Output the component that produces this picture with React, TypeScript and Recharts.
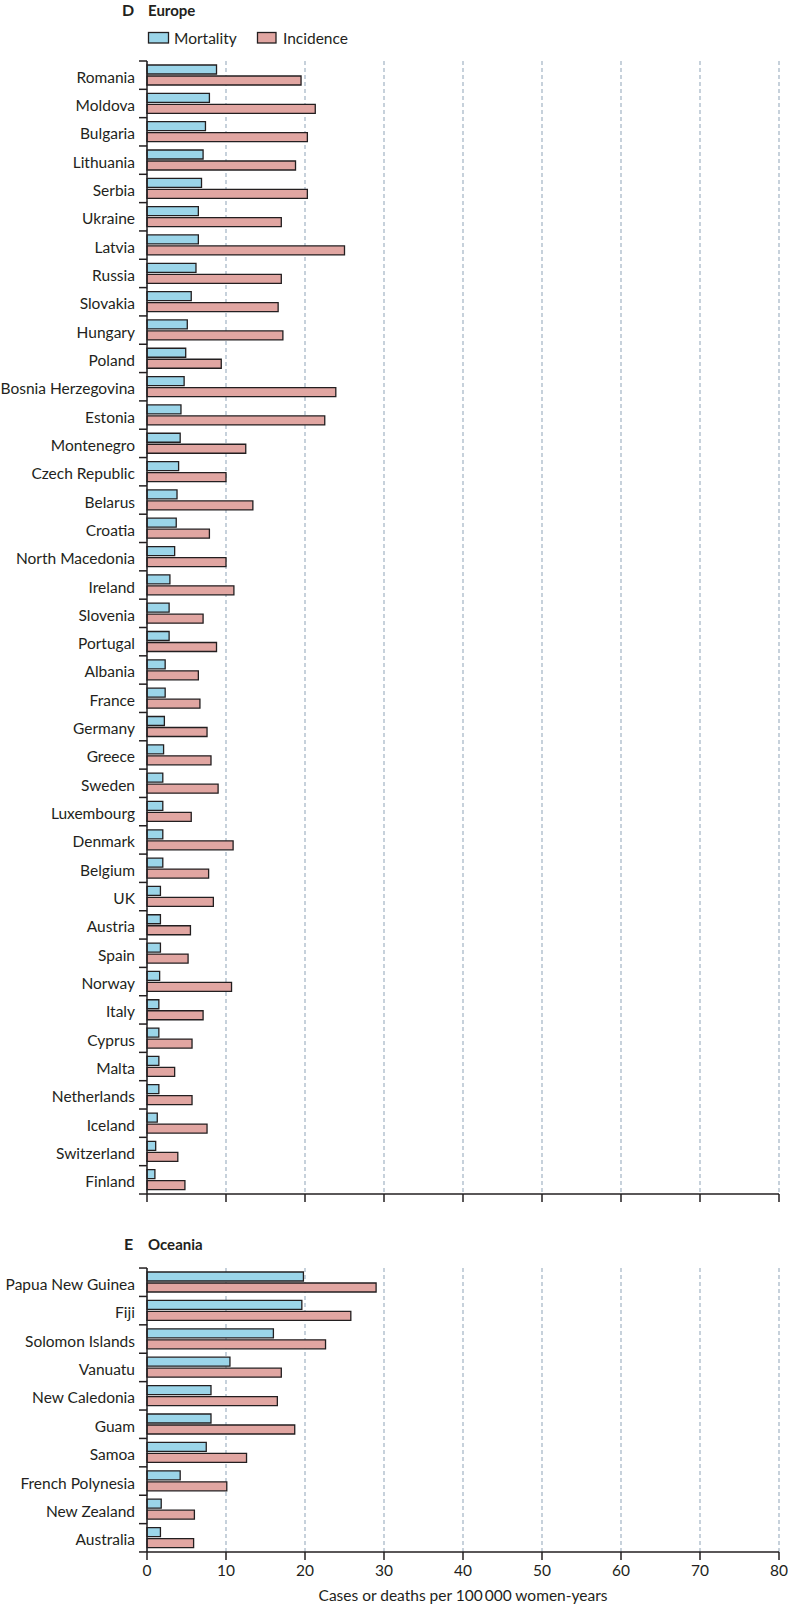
import { BarChart, Bar, XAxis, YAxis, CartesianGrid } from 'recharts'

const europeCountries = [
  'Romania', 'Moldova', 'Bulgaria', 'Lithuania', 'Serbia', 'Ukraine', 'Latvia', 'Russia',
  'Slovakia', 'Hungary', 'Poland', 'Bosnia Herzegovina', 'Estonia', 'Montenegro',
  'Czech Republic', 'Belarus', 'Croatia', 'North Macedonia', 'Ireland', 'Slovenia',
  'Portugal', 'Albania', 'France', 'Germany', 'Greece', 'Sweden', 'Luxembourg', 'Denmark',
  'Belgium', 'UK', 'Austria', 'Spain', 'Norway', 'Italy', 'Cyprus', 'Malta', 'Netherlands',
  'Iceland', 'Switzerland', 'Finland',
]
const europeMortality = [
  8.8, 7.9, 7.4, 7.1, 6.9, 6.5, 6.5, 6.2, 5.6, 5.1, 4.9, 4.7, 4.3, 4.2, 4.0, 3.8, 3.7, 3.5,
  2.9, 2.8, 2.8, 2.3, 2.3, 2.2, 2.1, 2.0, 2.0, 2.0, 2.0, 1.7, 1.7, 1.7, 1.6, 1.5, 1.5, 1.5,
  1.5, 1.3, 1.1, 1.0,
]
const europeIncidence = [
  19.5, 21.3, 20.3, 18.8, 20.3, 17.0, 25.0, 17.0, 16.6, 17.2, 9.4, 23.9, 22.5, 12.5, 10.0,
  13.4, 7.9, 10.0, 11.0, 7.1, 8.8, 6.5, 6.7, 7.6, 8.1, 9.0, 5.6, 10.9, 7.8, 8.4, 5.5, 5.2,
  10.7, 7.1, 5.7, 3.5, 5.7, 7.6, 3.9, 4.8,
]

const oceaniaCountries = [
  'Papua New Guinea', 'Fiji', 'Solomon Islands', 'Vanuatu', 'New Caledonia', 'Guam', 'Samoa',
  'French Polynesia', 'New Zealand', 'Australia',
]
const oceaniaMortality = [19.8, 19.6, 16.0, 10.5, 8.1, 8.1, 7.5, 4.2, 1.8, 1.7]
const oceaniaIncidence = [29.0, 25.8, 22.6, 17.0, 16.5, 18.7, 12.6, 10.1, 6.0, 5.9]

const xTicks = [0, 10, 20, 30, 40, 50, 60, 70, 80]

const MORT = '#9bd5e9'
const INC = '#e1a6a2'
const INK = '#231f20'
const FONT = 'Lato, "Noto Sans", sans-serif'
const FS = 15.5
const PLOT_LEFT = 147
const BAND = 28.33

const europeData = europeCountries.map((name, i) => ({
  name, mortality: europeMortality[i], incidence: europeIncidence[i],
}))
const oceaniaData = oceaniaCountries.map((name, i) => ({
  name, mortality: oceaniaMortality[i], incidence: oceaniaIncidence[i],
}))

function CountryTick(props: any) {
  const { y, payload, index, count } = props
  const top = y - BAND / 2
  return (
    <g>
      <line x1={PLOT_LEFT - 8} x2={PLOT_LEFT} y1={top} y2={top} stroke={INK} strokeWidth={1.5} />
      {index === count - 1 && (
        <line x1={PLOT_LEFT - 8} x2={PLOT_LEFT} y1={top + BAND} y2={top + BAND} stroke={INK} strokeWidth={1.5} />
      )}
      <text x={PLOT_LEFT - 12} y={y} dy={7.5} textAnchor="end" fontSize={FS} fontFamily={FONT} fill={INK}>
        {payload.value}
      </text>
    </g>
  )
}

function Panel({ data, height, top, showLabels }: { data: any[]; height: number; top: number; showLabels: boolean }) {
  return (
    <div style={{ position: 'absolute', left: 0, top }}>
      <BarChart
        width={788}
        height={height}
        data={data}
        layout="vertical"
        margin={{ top: showLabels ? 28 : 61, right: 9, left: 0, bottom: 0 }}
        barSize={9}
        barGap={2}
      >
        <CartesianGrid horizontal={false} stroke="#a9b9c8" strokeDasharray="4 3" strokeWidth={1.3} />
        <XAxis
          type="number"
          domain={[0, 80]}
          ticks={xTicks}
          height={showLabels ? 55 : 21}
          axisLine={{ stroke: INK, strokeWidth: 1.5 }}
          tickLine={{ stroke: INK, strokeWidth: 1.5 }}
          tickSize={8}
          tickMargin={5}
          tick={showLabels ? { fontSize: FS, fontFamily: FONT, fill: INK } : () => <g />}
          label={showLabels ? {
            value: 'Cases or deaths per 100\u2009000 women-years',
            position: 'insideBottom',
            offset: 6,
            fontSize: FS,
            fontFamily: FONT,
            fill: INK,
          } : undefined}
        />
        <YAxis
          type="category"
          dataKey="name"
          width={PLOT_LEFT}
          interval={0}
          axisLine={{ stroke: INK, strokeWidth: 1.5 }}
          tickLine={false}
          tick={(p: any) => <CountryTick {...p} count={data.length} />}
        />
        <Bar dataKey="mortality" fill={MORT} stroke={INK} strokeWidth={1.3} isAnimationActive={false} />
        <Bar dataKey="incidence" fill={INC} stroke={INK} strokeWidth={1.3} isAnimationActive={false} />
      </BarChart>
    </div>
  )
}

export default function App() {
  return (
    <div style={{ position: 'absolute', left: 0, top: 0, width: 788, height: 1607, background: '#fff', fontFamily: FONT }}>
      <Panel data={europeData} height={1215} top={0} showLabels={false} />
      <Panel data={oceaniaData} height={367} top={1240} showLabels={true} />
      <svg width={788} height={1607} style={{ position: 'absolute', left: 0, top: 0, pointerEvents: 'none' }}>
        <text x={122} y={16} fontSize={16} fontWeight={700} fontFamily={FONT} fill={INK}>D</text>
        <text x={148} y={16} fontSize={15} fontWeight={700} fontFamily={FONT} fill={INK}>Europe</text>
        <rect x={148.5} y={32.5} width={20} height={10.5} fill={MORT} stroke={INK} strokeWidth={1.3} />
        <text x={174} y={43.5} fontSize={FS} fontFamily={FONT} fill={INK}>Mortality</text>
        <rect x={257.5} y={32.5} width={18.5} height={10.5} fill={INC} stroke={INK} strokeWidth={1.3} />
        <text x={283} y={43.5} fontSize={FS} fontFamily={FONT} fill={INK}>Incidence</text>
        <text x={124} y={1250} fontSize={16} fontWeight={700} fontFamily={FONT} fill={INK}>E</text>
        <text x={148} y={1250} fontSize={15} fontWeight={700} fontFamily={FONT} fill={INK}>Oceania</text>
      </svg>
    </div>
  )
}
